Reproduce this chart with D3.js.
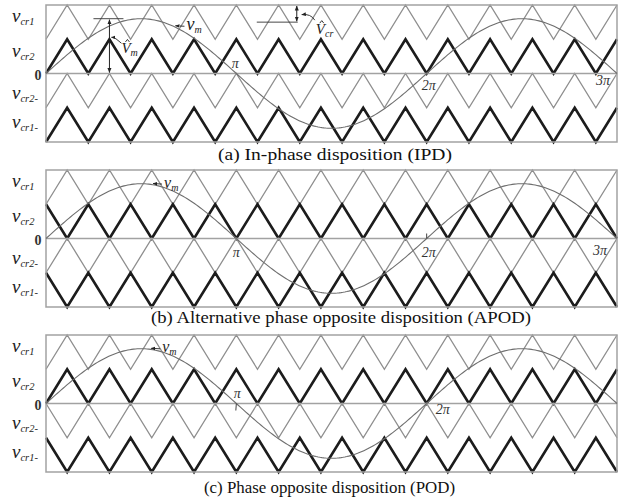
<!DOCTYPE html>
<html>
<head>
<meta charset="utf-8">
<script src="https://cdn.jsdelivr.net/npm/d3@7"></script>
<style>
body { margin: 0; background: #fff; }
svg { display: block; font-family: "Liberation Serif", "DejaVu Serif", serif; }
</style>
</head>
<body>
<svg id="chart" width="624" height="499"></svg>
<script>
// waveform parameters
const spanPi = 3;              // horizontal axis runs from 0 to 3π
const carrierPerCycle = 9;     // carrier periods per 2π of the reference
const modIndex = 0.8;          // peak of v_m relative to the full carrier stack
const bandNames = ['cr1', 'cr2', 'cr2-', 'cr1-'];
const bandLevels = [[1, 2], [0, 1], [-1, 0], [-2, -1]];
const bandHeavy = [false, true, false, true];
const panelCaptions = [
    '(a)  In-phase disposition (IPD)',
    '(b) Alternative phase opposite disposition (APOD)',
    '(c) Phase opposite disposition (POD)'
];
// where each carrier starts at θ = 0: 0 = lower edge of its band, 1 = upper edge
const startPhase = [
    [0, 0, 0, 0],
    [0, 1, 0, 1],
    [0, 0, 1, 1]
];
// multiples of π marked on the zero line, per panel
const piMarks = [[1, 2, 3], [1, 2, 3], [1, 2]];
const piText = { 1: 'π', 2: '2π', 3: '3π' };
// angle at which the v_m pointer touches the sine, per panel
const vmPointAt = [2.12, 1.75, 1.72];

// layout
const svg = d3.select('#chart');
const left = 46, right = 617;
const panelTops = [5, 170, 335];
const panelH = 137;
const captionY = [160, 323, 493];
const captionSpan = [[218, 452], [151, 531], [204, 455]];
const thin = '#8e8e8e', heavy = '#1c1c1c', frame = '#a2a2a2';

const x = d3.scaleLinear().domain([0, spanPi * Math.PI]).range([left, right]);

// arrow heads
const defs = svg.append('defs');
defs.append('marker')
    .attr('id', 'ah')
    .attr('viewBox', '0 0 10 10')
    .attr('refX', 9).attr('refY', 5)
    .attr('markerWidth', 5).attr('markerHeight', 5)
    .attr('orient', 'auto-start-reverse')
    .append('path')
    .attr('d', 'M0,1L10,5L0,9Z')
    .attr('fill', '#222');

// label offsets (value units) for the left-hand labels, and π label placement per panel
const labelLevels = [1.5, 0.48, -0.74, -1.59];
const piPlace = [
    { 1: [-1, -6], 2: [2, 16], 3: [-14, 11] },
    { 1: [0, 18], 2: [2, 18], 3: [-17, 16] },
    { 1: [1, -6], 2: [16, 10] }
];

const half = Math.PI / carrierPerCycle;
const nHalf = Math.round(spanPi * Math.PI / half);

panelTops.forEach((top, p) => {
    const y = d3.scaleLinear().domain([-2, 2]).range([top + panelH, top]);
    const g = svg.append('g').attr('class', 'panel');

    // carriers
    const line = d3.line().x(d => x(d[0])).y(d => y(d[1]));
    bandLevels.forEach((lv, b) => {
        const pts = d3.range(nHalf + 1).map(k => {
            const up = (k + startPhase[p][b]) % 2 === 1;
            return [k * half, up ? lv[1] : lv[0]];
        });
        g.append('path')
            .attr('d', line(pts))
            .attr('fill', 'none')
            .attr('stroke', bandHeavy[b] ? heavy : thin)
            .attr('stroke-width', bandHeavy[b] ? 2.6 : 1.3)
            .attr('stroke-linejoin', 'miter');
    });

    // frame and zero line
    g.append('rect')
        .attr('x', x(0)).attr('y', y(2))
        .attr('width', x(spanPi * Math.PI) - x(0))
        .attr('height', y(-2) - y(2))
        .attr('fill', 'none')
        .attr('stroke', frame)
        .attr('stroke-width', 1.5);
    g.append('line')
        .attr('x1', x(0)).attr('x2', x(spanPi * Math.PI))
        .attr('y1', y(0)).attr('y2', y(0))
        .attr('stroke', frame)
        .attr('stroke-width', 1.3);

    // modulating wave
    const th = d3.range(0, 301).map(i => i / 300 * spanPi * Math.PI);
    g.append('path')
        .attr('d', line(th.map(t => [t, 2 * modIndex * Math.sin(t)])))
        .attr('fill', 'none')
        .attr('stroke', '#6e6e6e')
        .attr('stroke-width', 1.1);

    // left labels
    bandNames.forEach((name, b) => {
        const t = g.append('text')
            .attr('x', 12)
            .attr('y', y(labelLevels[b]))
            .attr('fill', '#222')
            .attr('font-style', 'italic');
        t.append('tspan').attr('font-size', 19).text('v');
        t.append('tspan').attr('font-size', 10.5).attr('dy', 3).text(name);
    });
    g.append('text')
        .attr('x', 38).attr('y', y(0) + 6)
        .attr('text-anchor', 'middle')
        .attr('font-size', 14)
        .attr('font-weight', 'bold')
        .attr('fill', '#333')
        .text('0');

    // π marks
    piMarks[p].forEach(k => {
        const off = piPlace[p][k];
        g.append('text')
            .attr('x', x(k * Math.PI) + off[0])
            .attr('y', y(0) + off[1])
            .attr('text-anchor', 'middle')
            .attr('font-size', 14)
            .attr('font-style', 'italic')
            .attr('fill', '#333')
            .text(piText[k]);
    });

    // v_m pointer
    const vmAt = vmPointAt[p];
    const tip = [x(vmAt), y(2 * modIndex * Math.sin(vmAt)) - 1];
    g.append('line')
        .attr('x1', tip[0] + 10).attr('y1', tip[1] + 0.5)
        .attr('x2', tip[0] + 1).attr('y2', tip[1])
        .attr('stroke', '#222').attr('stroke-width', 0.9)
        .attr('marker-end', 'url(#ah)');
    const vm = g.append('text')
        .attr('x', tip[0] + 12).attr('y', tip[1] + 4)
        .attr('font-style', 'italic').attr('fill', '#222');
    vm.append('tspan').attr('font-size', p === 0 ? 18 : 16).text('v');
    vm.append('tspan').attr('font-size', 10).attr('dy', 3).text('m');

    // caption
    const span = captionSpan[p];
    svg.append('text')
        .attr('x', span[0]).attr('y', captionY[p])
        .attr('font-size', 17)
        .attr('fill', '#111')
        .attr('textLength', span[1] - span[0])
        .attr('lengthAdjust', 'spacingAndGlyphs')
        .text(panelCaptions[p]);

    if (p === 1) {
        g.append('line')
            .attr('x1', x(2 * Math.PI)).attr('x2', x(2 * Math.PI))
            .attr('y1', y(0) - 5).attr('y2', y(0))
            .attr('stroke', '#444').attr('stroke-width', 1);
    }
    if (p === 2) {
        g.append('line')
            .attr('x1', x(Math.PI)).attr('x2', x(Math.PI) - 0.5)
            .attr('y1', y(0)).attr('y2', y(0) + 7)
            .attr('stroke', '#444').attr('stroke-width', 1);
    }

    if (p === 0) {
        // amplitude of v_m
        const peak = y(2 * modIndex);
        const ax = x(half * 3);
        g.append('line')
            .attr('x1', ax - 16).attr('x2', ax + 14)
            .attr('y1', peak).attr('y2', peak)
            .attr('stroke', '#333').attr('stroke-width', 0.9);
        g.append('line')
            .attr('x1', ax).attr('x2', ax)
            .attr('y1', peak + 1).attr('y2', y(0) - 1)
            .attr('stroke', '#222').attr('stroke-width', 1)
            .attr('marker-start', 'url(#ah)')
            .attr('marker-end', 'url(#ah)');
        g.append('path')
            .attr('d', `M${ax + 12},${y(1) + 4} Q${ax + 6},${y(1) - 2} ${ax + 2},${y(1) - 2}`)
            .attr('fill', 'none').attr('stroke', '#222').attr('stroke-width', 0.9)
            .attr('marker-end', 'url(#ah)');
        const vh = g.append('text')
            .attr('x', ax + 12).attr('y', y(0.6))
            .attr('font-style', 'italic').attr('fill', '#222');
        vh.append('tspan').attr('font-size', 15).text('V');
        vh.append('tspan').attr('font-size', 10).attr('dy', 3).text('m');
        g.append('path')
            .attr('d', `M${ax + 16},${y(0.6) - 11} l2,-2.5 l2,2.5`)
            .attr('fill', 'none').attr('stroke', '#222').attr('stroke-width', 0.9);

        // amplitude of carrier
        const cx = x(half * 12) - 3;
        const mid = y(1.5);
        g.append('line')
            .attr('x1', cx - 40).attr('x2', cx + 1)
            .attr('y1', mid).attr('y2', mid)
            .attr('stroke', '#333').attr('stroke-width', 0.9);
        g.append('line')
            .attr('x1', cx).attr('x2', cx)
            .attr('y1', y(2) + 1).attr('y2', mid - 1)
            .attr('stroke', '#222').attr('stroke-width', 1)
            .attr('marker-start', 'url(#ah)')
            .attr('marker-end', 'url(#ah)');
        g.append('path')
            .attr('d', `M${cx + 18},${mid - 2} Q${cx + 14},${y(1.75)} ${cx + 5},${y(1.72)}`)
            .attr('fill', 'none').attr('stroke', '#222').attr('stroke-width', 0.9)
            .attr('marker-end', 'url(#ah)');
        const vc = g.append('text')
            .attr('x', cx + 19).attr('y', mid + 12)
            .attr('font-style', 'italic').attr('fill', '#222');
        vc.append('tspan').attr('font-size', 15).text('V');
        vc.append('tspan').attr('font-size', 10).attr('dy', 3).text('cr');
        g.append('path')
            .attr('d', `M${cx + 23},${mid + 1} l2,-2.5 l2,2.5`)
            .attr('fill', 'none').attr('stroke', '#222').attr('stroke-width', 0.9);
    }
});
</script>
</body>
</html>
